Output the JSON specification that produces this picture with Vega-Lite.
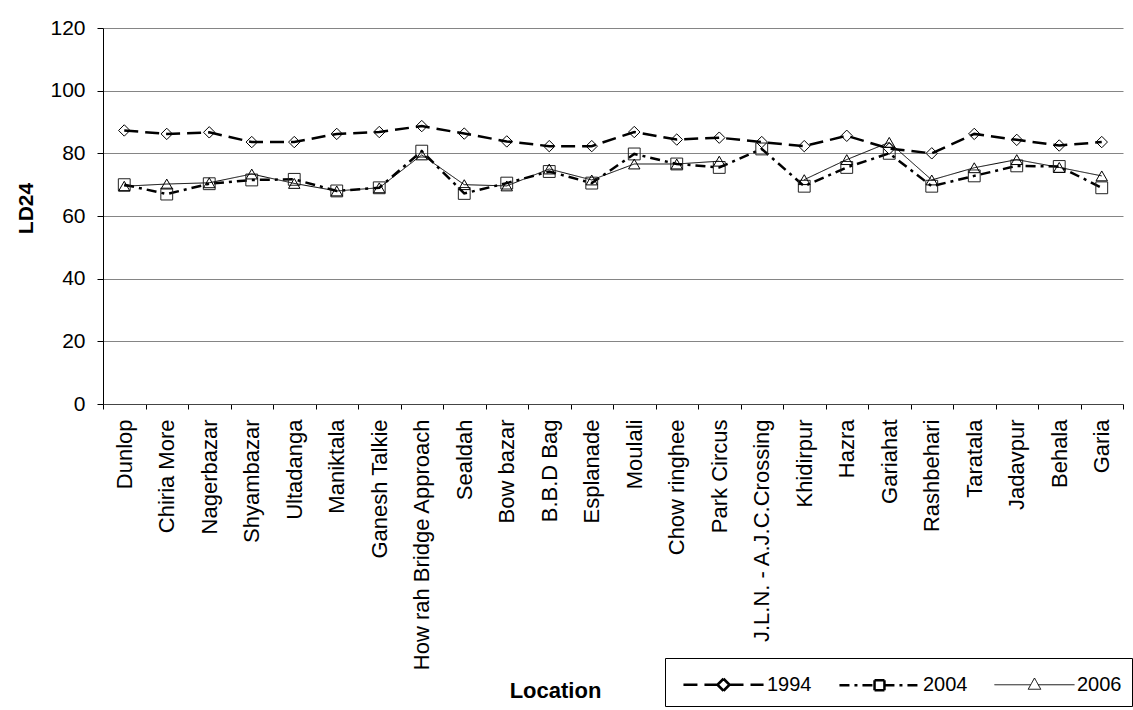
{
  "$schema": "https://vega.github.io/schema/vega-lite/v6.json",
  "width": 1020,
  "height": 376,
  "autosize": {"type": "none"},
  "padding": {"left": 103, "top": 28, "right": 10, "bottom": 306},
  "background": "white",
  "config": {"font": "Liberation Sans", "view": {"stroke": null}},
  "data": {"values": [
    {"location": "Dunlop", "year": "1994", "value": 87.3},
    {"location": "Dunlop", "year": "2004", "value": 70.0},
    {"location": "Dunlop", "year": "2006", "value": 69.5},
    {"location": "Chiria More", "year": "1994", "value": 86.2},
    {"location": "Chiria More", "year": "2004", "value": 67.0},
    {"location": "Chiria More", "year": "2006", "value": 70.2},
    {"location": "Nagerbazar", "year": "1994", "value": 86.7},
    {"location": "Nagerbazar", "year": "2004", "value": 70.3},
    {"location": "Nagerbazar", "year": "2006", "value": 70.6},
    {"location": "Shyambazar", "year": "1994", "value": 83.6},
    {"location": "Shyambazar", "year": "2004", "value": 71.5},
    {"location": "Shyambazar", "year": "2006", "value": 73.4},
    {"location": "Ultadanga", "year": "1994", "value": 83.6},
    {"location": "Ultadanga", "year": "2004", "value": 71.7},
    {"location": "Ultadanga", "year": "2006", "value": 70.4},
    {"location": "Maniktala", "year": "1994", "value": 86.2},
    {"location": "Maniktala", "year": "2004", "value": 68.0},
    {"location": "Maniktala", "year": "2006", "value": 68.0},
    {"location": "Ganesh Talkie", "year": "1994", "value": 86.8},
    {"location": "Ganesh Talkie", "year": "2004", "value": 69.0},
    {"location": "Ganesh Talkie", "year": "2006", "value": 69.0},
    {"location": "How rah Bridge Approach", "year": "1994", "value": 88.7},
    {"location": "How rah Bridge Approach", "year": "2004", "value": 80.7},
    {"location": "How rah Bridge Approach", "year": "2006", "value": 79.5},
    {"location": "Sealdah", "year": "1994", "value": 86.3},
    {"location": "Sealdah", "year": "2004", "value": 67.2},
    {"location": "Sealdah", "year": "2006", "value": 70.0},
    {"location": "Bow bazar", "year": "1994", "value": 83.8},
    {"location": "Bow bazar", "year": "2004", "value": 70.5},
    {"location": "Bow bazar", "year": "2006", "value": 69.6},
    {"location": "B.B.D Bag", "year": "1994", "value": 82.3},
    {"location": "B.B.D Bag", "year": "2004", "value": 74.2},
    {"location": "B.B.D Bag", "year": "2006", "value": 75.0},
    {"location": "Esplanade", "year": "1994", "value": 82.3},
    {"location": "Esplanade", "year": "2004", "value": 70.5},
    {"location": "Esplanade", "year": "2006", "value": 71.5},
    {"location": "Moulali", "year": "1994", "value": 86.8},
    {"location": "Moulali", "year": "2004", "value": 79.8},
    {"location": "Moulali", "year": "2006", "value": 76.6},
    {"location": "Chow ringhee", "year": "1994", "value": 84.4},
    {"location": "Chow ringhee", "year": "2004", "value": 76.6},
    {"location": "Chow ringhee", "year": "2006", "value": 76.6},
    {"location": "Park Circus", "year": "1994", "value": 85.0},
    {"location": "Park Circus", "year": "2004", "value": 75.5},
    {"location": "Park Circus", "year": "2006", "value": 77.5},
    {"location": "J.L.N. - A.J.C.Crossing", "year": "1994", "value": 83.6},
    {"location": "J.L.N. - A.J.C.Crossing", "year": "2004", "value": 81.4},
    {"location": "J.L.N. - A.J.C.Crossing", "year": "2006", "value": null},
    {"location": "Khidirpur", "year": "1994", "value": 82.3},
    {"location": "Khidirpur", "year": "2004", "value": 69.5},
    {"location": "Khidirpur", "year": "2006", "value": 71.6},
    {"location": "Hazra", "year": "1994", "value": 85.6},
    {"location": "Hazra", "year": "2004", "value": 75.5},
    {"location": "Hazra", "year": "2006", "value": 78.0},
    {"location": "Gariahat", "year": "1994", "value": 81.5},
    {"location": "Gariahat", "year": "2004", "value": 80.0},
    {"location": "Gariahat", "year": "2006", "value": 83.5},
    {"location": "Rashbehari", "year": "1994", "value": 80.0},
    {"location": "Rashbehari", "year": "2004", "value": 69.5},
    {"location": "Rashbehari", "year": "2006", "value": 71.5},
    {"location": "Taratala", "year": "1994", "value": 86.2},
    {"location": "Taratala", "year": "2004", "value": 72.8},
    {"location": "Taratala", "year": "2006", "value": 75.4},
    {"location": "Jadavpur", "year": "1994", "value": 84.3},
    {"location": "Jadavpur", "year": "2004", "value": 76.0},
    {"location": "Jadavpur", "year": "2006", "value": 78.0},
    {"location": "Behala", "year": "1994", "value": 82.5},
    {"location": "Behala", "year": "2004", "value": 75.8},
    {"location": "Behala", "year": "2006", "value": 75.5},
    {"location": "Garia", "year": "1994", "value": 83.6},
    {"location": "Garia", "year": "2004", "value": 69.0},
    {"location": "Garia", "year": "2006", "value": 72.8}
  ]},
  "encoding": {
    "x": {
      "field": "location", "type": "nominal", "sort": null,
      "scale": {"type": "band", "paddingInner": 0, "paddingOuter": 0},
      "axis": {
        "title": "Location", "labelAngle": -90, "labelFontSize": 22, "labelColor": "black",
        "labelPadding": 10, "labelLimit": 0, "tickBand": "extent", "tickSize": 5, "tickColor": "black",
        "domainColor": "#444", "grid": false,
        "titleFontSize": 22, "titleFontWeight": "bold", "titleColor": "black",
        "titleX": 452, "titleY": 286, "titleBaseline": "middle", "titleAlign": "center"
      }
    },
    "y": {
      "field": "value", "type": "quantitative",
      "scale": {"domain": [0, 120], "nice": false},
      "axis": {
        "title": "LD24", "values": [0, 20, 40, 60, 80, 100, 120],
        "grid": true, "gridColor": "#858585", "gridWidth": 1.2,
        "domainColor": "black", "tickColor": "black", "tickSize": 6,
        "labelFontSize": 21, "labelColor": "black", "labelPadding": 12,
        "titleFontSize": 21, "titleFontWeight": "bold", "titleColor": "black",
        "titleX": -77, "titleY": 180, "titleAngle": -90, "titleBaseline": "middle", "titleAlign": "center"
      }
    }
  },
  "layer": [
    {
      "mark": {"type": "line", "color": "black"},
      "encoding": {
        "strokeDash": {
          "field": "year", "type": "nominal",
          "scale": {"domain": ["1994", "2004", "2006"], "range": [[14, 7], [10, 5, 3, 5], [1, 0]]}
        },
        "strokeWidth": {
          "field": "year", "type": "nominal",
          "scale": {"type": "ordinal", "domain": ["1994", "2004", "2006"], "range": [2.5, 2.5, 1]}
        }
      }
    },
    {
      "transform": [{"filter": "datum.year === '1994'"}],
      "mark": {"type": "point", "shape": "diamond", "filled": false, "color": "black", "strokeWidth": 1, "size": 130, "opacity": 1}
    },
    {
      "transform": [{"filter": "datum.year === '2004'"}],
      "mark": {"type": "point", "shape": "square", "filled": false, "color": "#222", "strokeWidth": 1, "size": 140, "opacity": 1}
    },
    {
      "transform": [{"filter": "datum.year === '2006'"}],
      "mark": {"type": "point", "shape": "triangle-up", "filled": false, "color": "black", "strokeWidth": 1, "size": 130, "opacity": 1}
    },
    {
      "mark": {"type": "point", "filled": false, "color": "black", "opacity": 0},
      "encoding": {
        "shape": {
          "field": "year", "type": "nominal",
          "scale": {"domain": ["1994", "2004", "2006"], "range": [
            "M-2.67,0H-0.4M-0.4,0L0,-0.4M0,-0.4L0.4,0M0.4,0L0,0.4M0,0.4L-0.4,0M0.4,0H2.67",
            "M-2.67,0H-0.33M-0.33,-0.33H0.33M0.33,-0.33V0.33M0.33,0.33H-0.33M-0.33,0.33V-0.33M0.33,0H2.67",
            "M-2.67,0H-0.25M0.25,0H2.67M0,-0.45L0.42,0.3L-0.42,0.3Z"
          ]},
          "legend": {
            "orient": "none", "legendX": 562, "legendY": 630, "direction": "horizontal",
            "title": null, "strokeColor": "black", "fillColor": "white", "padding": 10,
            "symbolSize": 900, "symbolOffset": 32, "labelOffset": 27, "columnPadding": 19,
            "symbolOpacity": 1, "symbolStrokeColor": "black", "symbolFillColor": "transparent",
            "labelFontSize": 20, "labelColor": "black"
          }
        },
        "strokeDash": {
          "field": "year", "type": "nominal",
          "scale": {"domain": ["1994", "2004", "2006"], "range": [[14, 7], [10, 5, 3, 5], [1, 0]]}
        },
        "strokeWidth": {
          "field": "year", "type": "nominal",
          "scale": {"type": "ordinal", "domain": ["1994", "2004", "2006"], "range": [2.5, 2.5, 1]}
        }
      }
    }
  ]
}
